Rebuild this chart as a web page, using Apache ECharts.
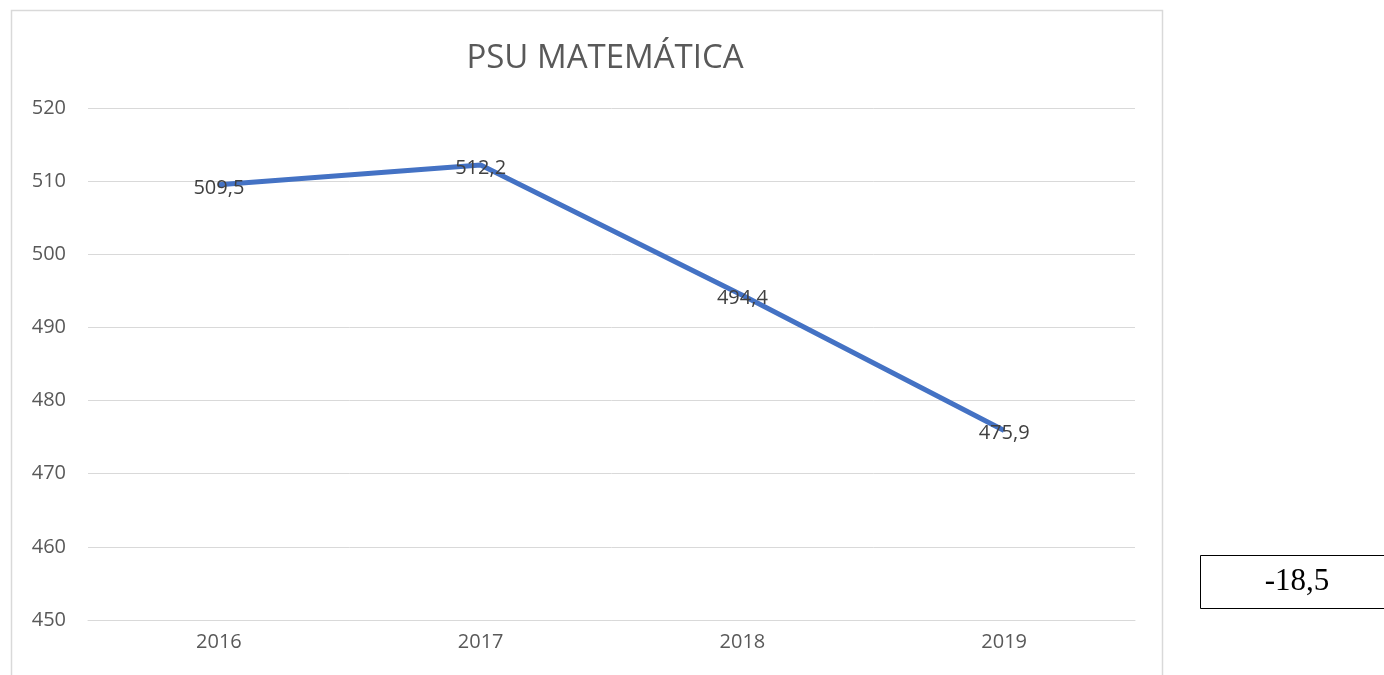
<!DOCTYPE html>
<html>
<head>
<meta charset="utf-8">
<script src="https://cdn.jsdelivr.net/npm/echarts@6/dist/echarts.min.js"></script>
<style>
  html, body { margin: 0; padding: 0; background: #fff; }
  #chart { width: 1384px; height: 675px; }
</style>
</head>
<body>
<div id="chart"></div>
<script>
// datos
var years = ['2016', '2017', '2018', '2019'];
var scores = [509.5, 512.2, 494.4, 475.9];
var diffText = '-18,5';

var myChart = echarts.init(document.getElementById('chart'));

var option = {
    animation: false,
    backgroundColor: '#ffffff',
    title: {
        text: 'PSU MATEMÁTICA',
        left: 600,
        top: 37,
        textAlign: 'center',
        textStyle: {
            fontFamily: 'Open Sans',
            fontWeight: 'normal',
            fontSize: 33,
            color: '#595959'
        }
    },
    grid: {
        left: 88,
        right: 249,
        top: 108,
        bottom: 55
    },
    xAxis: {
        type: 'category',
        data: years,
        boundaryGap: true,
        axisLine: { lineStyle: { color: '#d9d9d9' } },
        axisTick: { show: false },
        axisLabel: {
            color: '#595959',
            fontFamily: 'Open Sans',
            fontSize: 20,
            margin: 12
        }
    },
    yAxis: {
        type: 'value',
        min: 450,
        max: 520,
        interval: 10,
        axisLine: { show: false },
        axisTick: { show: false },
        splitLine: { lineStyle: { color: '#d9d9d9', width: 1 } },
        axisLabel: {
            color: '#595959',
            fontFamily: 'Open Sans',
            fontSize: 20,
            margin: 22
        }
    },
    series: [{
        name: 'PSU MATEMÁTICA',
        type: 'line',
        data: scores,
        symbol: 'circle',
        symbolSize: 2,
        showSymbol: true,
        itemStyle: { color: '#4472c4' },
        lineStyle: { color: '#4472c4', width: 5 },
        label: {
            show: true,
            position: 'inside',
            offset: [0, 3],
            color: '#404040',
            fontFamily: 'Open Sans',
            fontSize: 20,
            formatter: function (p) {
                return p.value.toFixed(1).replace('.', ',');
            }
        }
    }],
    graphic: [
        {
            type: 'rect',
            shape: { x: 11.5, y: 10.5, width: 1151, height: 680 },
            style: { fill: 'none', stroke: '#d9d9d9', lineWidth: 1.5 },
            silent: true
        },
        {
            type: 'rect',
            shape: { x: 1200.5, y: 555.5, width: 190, height: 53 },
            style: { fill: '#ffffff', stroke: '#000000', lineWidth: 1 },
            silent: true
        },
        {
            type: 'text',
            x: 1297,
            y: 582,
            style: {
                text: diffText,
                fontFamily: 'Liberation Serif',
                fontSize: 31,
                fill: '#000000',
                align: 'center',
                verticalAlign: 'middle'
            }
        }
    ]
};

myChart.setOption(option);
</script>
</body>
</html>
